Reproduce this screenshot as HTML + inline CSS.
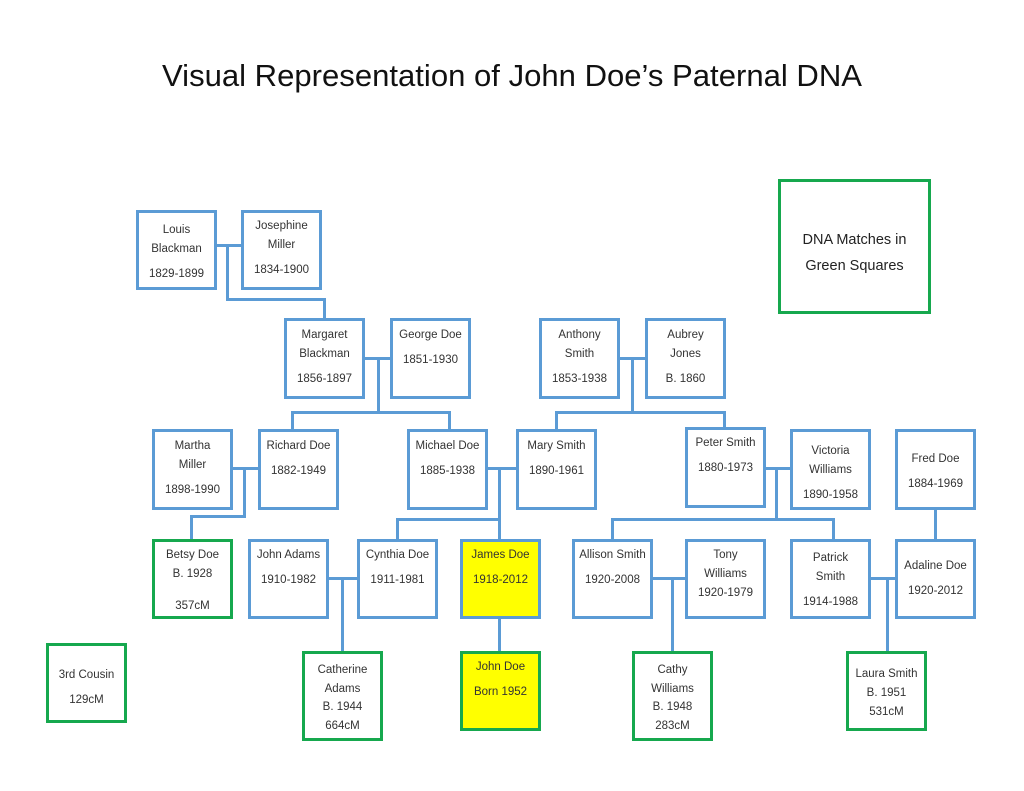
<!DOCTYPE html>
<html><head><meta charset="utf-8"><style>
body{margin:0;width:1024px;height:791px;background:#fff;position:relative;overflow:hidden;font-family:"Liberation Sans",sans-serif;}
.b{position:absolute;box-sizing:border-box;border:3px solid #5b9bd5;background:#fff;text-align:center;font-size:11.5px;color:#333;line-height:19px;padding-top:8px;}
.g{border-color:#16a84e;}
.y{background:#ffff00;}
.d{margin-top:6px;}
.l{position:absolute;background:#5b9bd5;}
</style></head><body>
<svg style="position:absolute;left:0;top:0" width="1024" height="120"><text x="162" y="86" textLength="700" lengthAdjust="spacingAndGlyphs" font-family="Liberation Sans, sans-serif" font-size="31" fill="#111">Visual Representation of John Doe’s Paternal DNA</text></svg>

<!-- lines -->
<div class="l" style="left:216px;top:244px;width:25px;height:3px"></div>
<div class="l" style="left:226px;top:244px;width:3px;height:57px"></div>
<div class="l" style="left:226px;top:298px;width:100px;height:3px"></div>
<div class="l" style="left:323px;top:298px;width:3px;height:21px"></div>

<div class="l" style="left:364px;top:357px;width:26px;height:3px"></div>
<div class="l" style="left:377px;top:357px;width:3px;height:57px"></div>
<div class="l" style="left:291px;top:411px;width:160px;height:3px"></div>
<div class="l" style="left:291px;top:411px;width:3px;height:19px"></div>
<div class="l" style="left:448px;top:411px;width:3px;height:19px"></div>

<div class="l" style="left:619px;top:357px;width:26px;height:3px"></div>
<div class="l" style="left:631px;top:357px;width:3px;height:57px"></div>
<div class="l" style="left:555px;top:411px;width:171px;height:3px"></div>
<div class="l" style="left:555px;top:411px;width:3px;height:19px"></div>
<div class="l" style="left:723px;top:411px;width:3px;height:17px"></div>

<div class="l" style="left:232px;top:467px;width:26px;height:3px"></div>
<div class="l" style="left:243px;top:467px;width:3px;height:51px"></div>
<div class="l" style="left:190px;top:515px;width:56px;height:3px"></div>
<div class="l" style="left:190px;top:515px;width:3px;height:25px"></div>

<div class="l" style="left:488px;top:467px;width:28px;height:3px"></div>
<div class="l" style="left:498px;top:467px;width:3px;height:73px"></div>
<div class="l" style="left:396px;top:518px;width:105px;height:3px"></div>
<div class="l" style="left:396px;top:518px;width:3px;height:22px"></div>

<div class="l" style="left:765px;top:467px;width:25px;height:3px"></div>
<div class="l" style="left:775px;top:467px;width:3px;height:54px"></div>
<div class="l" style="left:611px;top:518px;width:224px;height:3px"></div>
<div class="l" style="left:611px;top:518px;width:3px;height:22px"></div>
<div class="l" style="left:832px;top:518px;width:3px;height:22px"></div>

<div class="l" style="left:934px;top:508px;width:3px;height:32px"></div>

<div class="l" style="left:328px;top:577px;width:30px;height:3px"></div>
<div class="l" style="left:341px;top:577px;width:3px;height:75px"></div>
<div class="l" style="left:498px;top:617px;width:3px;height:35px"></div>
<div class="l" style="left:652px;top:577px;width:33px;height:3px"></div>
<div class="l" style="left:671px;top:577px;width:3px;height:75px"></div>
<div class="l" style="left:870px;top:577px;width:25px;height:3px"></div>
<div class="l" style="left:886px;top:577px;width:3px;height:75px"></div>

<!-- boxes -->
<div class="b" style="left:136px;top:210px;width:81px;height:80px">Louis<br>Blackman<div class="d">1829-1899</div></div>
<div class="b" style="left:241px;top:210px;width:81px;height:80px;padding-top:4px">Josephine<br>Miller<div class="d">1834-1900</div></div>
<div class="b" style="left:284px;top:318px;width:81px;height:81px;padding-top:5px">Margaret<br>Blackman<div class="d">1856-1897</div></div>
<div class="b" style="left:390px;top:318px;width:81px;height:81px;padding-top:5px">George Doe<div class="d">1851-1930</div></div>
<div class="b" style="left:539px;top:318px;width:81px;height:81px;padding-top:5px">Anthony<br>Smith<div class="d">1853-1938</div></div>
<div class="b" style="left:645px;top:318px;width:81px;height:81px;padding-top:5px">Aubrey<br>Jones<div class="d">B. 1860</div></div>

<div class="b" style="left:152px;top:429px;width:81px;height:81px;padding-top:5px">Martha<br>Miller<div class="d">1898-1990</div></div>
<div class="b" style="left:258px;top:429px;width:81px;height:81px;padding-top:5px">Richard Doe<div class="d">1882-1949</div></div>
<div class="b" style="left:407px;top:429px;width:81px;height:81px;padding-top:5px">Michael Doe<div class="d">1885-1938</div></div>
<div class="b" style="left:516px;top:429px;width:81px;height:81px;padding-top:5px">Mary Smith<div class="d">1890-1961</div></div>
<div class="b" style="left:685px;top:427px;width:81px;height:81px;padding-top:4px">Peter Smith<div class="d">1880-1973</div></div>
<div class="b" style="left:790px;top:429px;width:81px;height:81px;padding-top:10px">Victoria<br>Williams<div class="d">1890-1958</div></div>
<div class="b" style="left:895px;top:429px;width:81px;height:81px;padding-top:18px">Fred Doe<div class="d">1884-1969</div></div>

<div class="b g" style="left:152px;top:539px;width:81px;height:80px;padding-top:4px">Betsy Doe<br>B. 1928<div class="d" style="margin-top:13px">357cM</div></div>
<div class="b" style="left:248px;top:539px;width:81px;height:80px;padding-top:4px">John Adams<div class="d">1910-1982</div></div>
<div class="b" style="left:357px;top:539px;width:81px;height:80px;padding-top:4px">Cynthia Doe<div class="d">1911-1981</div></div>
<div class="b y" style="left:460px;top:539px;width:81px;height:80px;padding-top:4px">James Doe<div class="d">1918-2012</div></div>
<div class="b" style="left:572px;top:539px;width:81px;height:80px;padding-top:4px">Allison Smith<div class="d">1920-2008</div></div>
<div class="b" style="left:685px;top:539px;width:81px;height:80px;padding-top:4px">Tony<br>Williams<br>1920-1979</div>
<div class="b" style="left:790px;top:539px;width:81px;height:80px;padding-top:7px">Patrick<br>Smith<div class="d">1914-1988</div></div>
<div class="b" style="left:895px;top:539px;width:81px;height:80px;padding-top:15px">Adaline Doe<div class="d">1920-2012</div></div>

<div class="b g" style="left:46px;top:643px;width:81px;height:80px;padding-top:20px">3rd Cousin<div class="d">129cM</div></div>
<div class="b g" style="left:302px;top:651px;width:81px;height:90px;padding-top:7px;line-height:18.5px">Catherine<br>Adams<br>B. 1944<br>664cM</div>
<div class="b g y" style="left:460px;top:651px;width:81px;height:80px;padding-top:4px">John Doe<div class="d">Born 1952</div></div>
<div class="b g" style="left:632px;top:651px;width:81px;height:90px;padding-top:7px;line-height:18.5px">Cathy<br>Williams<br>B. 1948<br>283cM</div>
<div class="b g" style="left:846px;top:651px;width:81px;height:80px;padding-top:11px">Laura Smith<br>B. 1951<br>531cM</div>

<div class="b g" style="left:778px;top:179px;width:153px;height:135px;padding-top:45px;font-size:14.5px;line-height:26px;color:#222">DNA Matches in<br>Green Squares</div>
</body></html>
